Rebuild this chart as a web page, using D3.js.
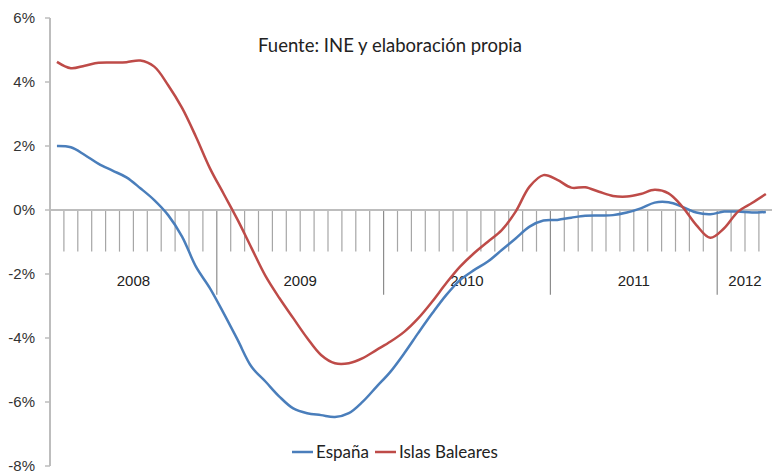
<!DOCTYPE html>
<html>
<head>
<meta charset="utf-8">
<script src="https://cdn.jsdelivr.net/npm/d3@7"></script>
<style>
  body { margin: 0; background: #fff; }
  .ytick text { font-family: "Liberation Sans", Arial, sans-serif; font-size: 15px; fill: #333; }
  .year { font-family: "Liberation Sans", Arial, sans-serif; font-size: 15px; fill: #222; }
  .title, .legend { font-family: Lato, "Noto Sans", sans-serif; fill: #222; }
</style>
</head>
<body>
<svg id="chart" width="772" height="473"></svg>
<script>
// SIZING
var width = 772, height = 473;
var margin = {top: 18, left: 50, bottom: 7};
var slot = 13.9;

// DATA (monthly, Jan 2008 - Apr 2012)
var years = ["2008", "2009", "2010", "2011", "2012"];
var monthsPerYear = [12, 12, 12, 12, 4];
var espana = [2.00, 1.96, 1.72, 1.44, 1.23, 1.02, 0.68, 0.31, -0.16, -0.83, -1.77, -2.44,
  -3.23, -4.06, -4.90, -5.36, -5.83, -6.20, -6.35, -6.41, -6.47, -6.35, -5.99, -5.52,
  -5.05, -4.47, -3.84, -3.23, -2.66, -2.19, -1.88, -1.61, -1.25, -0.89, -0.52, -0.33,
  -0.31, -0.24, -0.18, -0.17, -0.16, -0.08, 0.05, 0.23, 0.24, 0.10, -0.08, -0.13,
  -0.05, -0.05, -0.08, -0.06];
var baleares = [4.63, 4.43, 4.51, 4.60, 4.61, 4.62, 4.67, 4.48, 3.90, 3.19, 2.29, 1.31,
  0.50, -0.31, -1.19, -2.06, -2.75, -3.38, -4.00, -4.53, -4.79, -4.79, -4.63, -4.37,
  -4.11, -3.80, -3.38, -2.86, -2.29, -1.77, -1.35, -0.99, -0.63, -0.05, 0.73, 1.09,
  0.94, 0.70, 0.71, 0.57, 0.44, 0.42, 0.50, 0.63, 0.52, 0.10, -0.47, -0.87,
  -0.57, -0.05, 0.22, 0.50];
var yTicks = [-8, -6, -4, -2, 0, 2, 4, 6];
var seriesNames = ["España", "Islas Baleares"];
var colors = ["#4a7ebb", "#be4b48"];

var nMonths = d3.sum(monthsPerYear);

var svg = d3.select("#chart");

var x = d3.scaleLinear()
  .domain([0, nMonths])
  .range([margin.left, margin.left + nMonths * slot]);

var y = d3.scaleLinear()
  .domain([-8, 6])
  .range([height - margin.bottom, margin.top]);

// Y AXIS
svg.append("line")
  .attr("x1", x(0)).attr("x2", x(0))
  .attr("y1", y(6)).attr("y2", y(-8))
  .style("stroke", "#bdbdbd").style("stroke-width", 2);

var yt = svg.selectAll(".ytick")
  .data(yTicks)
  .enter().append("g")
  .attr("class", "ytick")
  .attr("transform", function(d) { return "translate(0," + y(d) + ")"; });
yt.append("line")
  .attr("x1", x(0) - 5).attr("x2", x(0))
  .style("stroke", "#bdbdbd").style("stroke-width", 1.5);
yt.append("text")
  .attr("x", x(0) - 15)
  .attr("dy", "0.36em")
  .attr("text-anchor", "end")
  .text(function(d) { return d + "%"; });

// X AXIS AT 0, MONTH TICKS AND YEAR SEPARATORS
var yearStarts = [];
var acc = 0;
monthsPerYear.forEach(function(m) { yearStarts.push(acc); acc += m; });

var tickIdx = d3.range(1, nMonths);
svg.selectAll(".mtick")
  .data(tickIdx)
  .enter().append("line")
  .attr("class", "mtick")
  .attr("x1", function(d) { return x(d); })
  .attr("x2", function(d) { return x(d); })
  .attr("y1", y(0))
  .attr("y2", function(d) { return yearStarts.indexOf(d) >= 0 ? y(-2.65) : y(-1.3); })
  .style("stroke", function(d) { return yearStarts.indexOf(d) >= 0 ? "#8c8c8c" : "#a6a6a6"; })
  .style("stroke-width", 1.2);

svg.append("line")
  .attr("x1", x(0)).attr("x2", width)
  .attr("y1", y(0)).attr("y2", y(0))
  .style("stroke", "#bdbdbd").style("stroke-width", 2);

svg.selectAll(".year")
  .data(years)
  .enter().append("text")
  .attr("class", "year")
  .attr("x", function(d, i) { return x(yearStarts[i] + monthsPerYear[i] / 2); })
  .attr("y", y(-2.38))
  .attr("text-anchor", "middle")
  .text(function(d) { return d; });

// LINES
var line = d3.line()
  .curve(d3.curveCatmullRom.alpha(0.5))
  .x(function(d, i) { return x(i + 0.5); })
  .y(function(d) { return y(d); });

[espana, baleares].forEach(function(s, k) {
  svg.append("path")
    .datum(s)
    .attr("d", line)
    .style("fill", "none")
    .style("stroke", colors[k])
    .style("stroke-width", 2.5);
});

// TITLE
svg.append("text")
  .attr("class", "title")
  .attr("x", 390)
  .attr("y", 52)
  .attr("text-anchor", "middle")
  .style("font-size", "18.5px")
  .text("Fuente: INE y elaboración propia");

// LEGEND
var legendX = [292, 375];
var lg = svg.selectAll(".legend")
  .data(seriesNames)
  .enter().append("g")
  .attr("class", "legend")
  .attr("transform", function(d, i) { return "translate(" + legendX[i] + ",452)"; });
lg.append("line")
  .attr("x1", 0).attr("x2", 21)
  .style("stroke", function(d, i) { return colors[i]; })
  .style("stroke-width", 2.5);
lg.append("text")
  .attr("x", 24)
  .attr("dy", "0.35em")
  .style("font-size", "17px")
  .text(function(d) { return d; });
</script>
</body>
</html>
